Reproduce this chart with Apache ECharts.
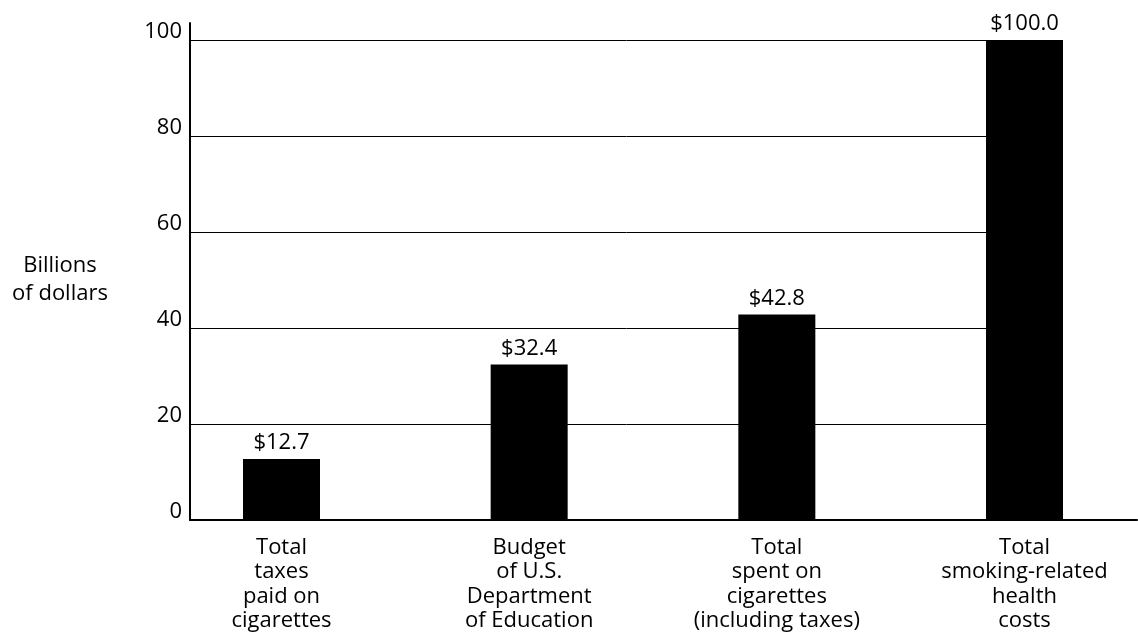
<!DOCTYPE html>
<html>
<head>
<meta charset="utf-8">
<script src="https://cdn.jsdelivr.net/npm/echarts@6/dist/echarts.min.js"></script>
<style>
html,body{margin:0;padding:0;background:#fff;}
#chart{width:1138px;height:642px;}
</style>
</head>
<body>
<div id="chart"></div>
<script>
const categories = [
  "Total\ntaxes\npaid on\ncigarettes",
  "Budget\nof U.S.\nDepartment\nof Education",
  "Total\nspent on\ncigarettes\n(including taxes)",
  "Total\nsmoking-related\nhealth\ncosts"
];
const values = [12.7, 32.4, 42.8, 100.0];
const yTicks = [0, 20, 40, 60, 80, 100];
const yTitle = "Billions\nof dollars";

const FONT = "Open Sans";
const FS = 22;
const chart = echarts.init(document.getElementById('chart'));
chart.setOption({
  animation: false,
  backgroundColor: '#fff',
  textStyle: { fontFamily: FONT, color: '#000' },
  grid: [
    { left: 190, right: 1, top: 23, bottom: 122 },
    { left: 190, right: 75, top: 40, bottom: 122 },
    { left: 281.5, right: 113.5, top: 40, bottom: 122 }
  ],
  xAxis: [
    { gridIndex: 0, type: 'value', min: 0, max: 1, axisLine: { show: true, onZero: false, lineStyle: { color: '#000', width: 2 } },
      axisTick: { show: false }, axisLabel: { show: false }, splitLine: { show: false } },
    { gridIndex: 1, type: 'value', min: 0, max: 1, show: false },
    { gridIndex: 2, type: 'category', data: categories, boundaryGap: false,
      axisLine: { show: false }, axisTick: { show: false }, splitLine: { show: false },
      axisLabel: { color: '#000', fontFamily: FONT, fontSize: FS, lineHeight: 24.5, margin: 15, interval: 0 } }
  ],
  yAxis: [
    { gridIndex: 0, type: 'value', min: 0, max: 1,
      axisLine: { show: true, lineStyle: { color: '#000', width: 2 } },
      axisTick: { show: false }, axisLabel: { show: false }, splitLine: { show: false } },
    { gridIndex: 1, type: 'value', min: yTicks[0], max: yTicks[yTicks.length - 1], interval: 20,
      name: yTitle, nameLocation: 'middle', nameRotate: 0, nameGap: 130,
      nameTextStyle: { color: '#000', fontFamily: FONT, fontSize: FS, lineHeight: 28, align: 'center' },
      axisLine: { show: false }, axisTick: { show: false },
      axisLabel: { color: '#000', fontFamily: FONT, fontSize: FS, margin: 8, verticalAlign: 'bottom', lineHeight: 17 },
      splitLine: { show: true, lineStyle: { color: '#000', width: 1 } } },
    { gridIndex: 2, type: 'value', min: yTicks[0], max: yTicks[yTicks.length - 1], show: false }
  ],
  series: [{
    type: 'bar',
    xAxisIndex: 2, yAxisIndex: 2,
    data: values,
    barWidth: 77,
    itemStyle: { color: '#000' },
    label: { show: true, position: 'top', distance: 5, color: '#000', fontFamily: FONT, fontSize: FS,
      formatter: p => '$' + p.value.toFixed(1) }
  }]
});
</script>
</body>
</html>
